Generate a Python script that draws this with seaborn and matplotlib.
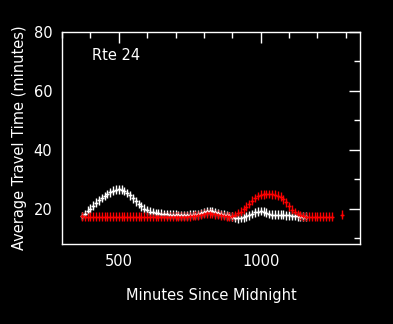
import numpy as np
import pandas as pd
import matplotlib
matplotlib.use("Agg")
import matplotlib.pyplot as plt
import seaborn as sns
from matplotlib.ticker import MultipleLocator

# Route 24 travel time data
white_minutes = list(range(370, 1170, 10))
white_time = [
    17.5, 18.2, 19.3, 20.0, 21.0, 22.0, 22.8, 23.6, 24.3, 25.0,
    25.6, 26.1, 26.5, 26.6, 26.4, 26.0, 25.3, 24.5, 23.5, 22.5,
    21.6, 20.8, 20.0, 19.4, 19.0, 18.7, 18.5, 18.4, 18.3, 18.2,
    18.1, 18.0, 17.9, 17.9, 17.8, 17.8, 17.8, 17.8, 17.9, 17.9,
    18.0, 18.1, 18.4, 18.8, 19.1, 19.2, 19.1, 18.8, 18.5, 18.2,
    17.9, 17.7, 17.5, 17.2, 16.9, 16.8, 16.9, 17.1, 17.4, 17.7,
    18.2, 18.7, 19.0, 19.2, 19.0, 18.6, 18.2, 18.0, 17.9, 17.9,
    17.9, 17.9, 17.8, 17.7, 17.6, 17.5, 17.4, 17.4, 17.3, 17.3,
]

red_minutes = list(range(370, 1260, 10)) + [1285]
red_time = [
    17.4, 17.3, 17.2, 17.2, 17.3, 17.2, 17.2, 17.3, 17.2, 17.2,
    17.2, 17.3, 17.2, 17.2, 17.2, 17.3, 17.2, 17.2, 17.2, 17.3,
    17.2, 17.2, 17.2, 17.3, 17.2, 17.2, 17.2, 17.2, 17.3, 17.2,
    17.2, 17.2, 17.3, 17.2, 17.2, 17.3, 17.3, 17.3, 17.4, 17.5,
    17.6, 17.8, 18.0, 18.3, 18.4, 18.4, 18.3, 18.1, 17.9, 17.7,
    17.5, 17.4, 17.3, 17.4, 17.8, 18.4, 19.0, 19.8, 20.6, 21.6,
    22.7, 23.6, 24.3, 24.7, 24.9, 25.0, 25.0, 24.9, 24.7, 24.4,
    24.0, 23.2, 22.1, 20.8, 19.6, 18.8, 18.2, 17.7, 17.4, 17.3,
    17.3, 17.2, 17.3, 17.2, 17.3, 17.2, 17.3, 17.2, 17.3, 18.0,
]
err_half = 1.5

df = pd.concat([
    pd.DataFrame({"Minutes": white_minutes, "Time": white_time, "Series": "white"}),
    pd.DataFrame({"Minutes": red_minutes, "Time": red_time, "Series": "red"}),
])

sns.set_style("dark")
plt.rcParams["font.family"] = ["DejaVu Sans"]

fig = plt.figure(figsize=(3.93, 3.24), dpi=100, facecolor="black")
ax = fig.add_axes([62 / 393, 1 - 244 / 324, 298 / 393, 212 / 324])
ax.set_facecolor("black")

for name, color in [("white", "white"), ("red", "red")]:
    sub = df[df["Series"] == name]
    ax.vlines(sub["Minutes"], sub["Time"] - err_half, sub["Time"] + err_half,
              color=color, lw=1.0, zorder=2)
    sns.scatterplot(data=sub, x="Minutes", y="Time", marker="+", s=12,
                    color=color, linewidth=1.0, ax=ax, zorder=3, legend=False)

ax.set_xlim(300, 1350)
ax.set_ylim(8, 80)
ax.xaxis.set_major_locator(MultipleLocator(500))
ax.xaxis.set_minor_locator(MultipleLocator(100))
ax.yaxis.set_major_locator(MultipleLocator(20))
ax.yaxis.set_minor_locator(MultipleLocator(10))
ax.tick_params(which="both", direction="in", top=True, right=True,
               colors="white", labelsize=10.5, width=1)
ax.tick_params(which="major", length=8, pad=7)
ax.tick_params(which="minor", length=4)
ax.grid(False)
for sp in ax.spines.values():
    sp.set_color("white")
    sp.set_linewidth(1)

ax.set_xlabel("Minutes Since Midnight", color="white", fontsize=10.5, labelpad=14)
ax.set_ylabel("Average Travel Time (minutes)", color="white", fontsize=10.5, labelpad=5)
ax.text(0.1, 0.887, "Rte 24", transform=ax.transAxes, color="white",
        fontsize=10.5, va="center", ha="left")

fig.savefig("out.png", dpi=100, facecolor="black")
